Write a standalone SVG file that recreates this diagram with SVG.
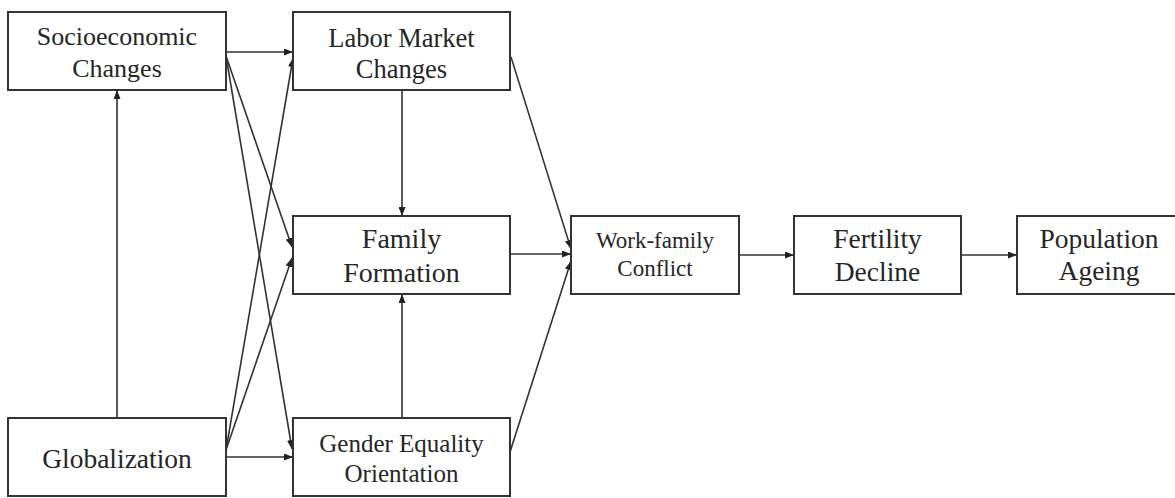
<svg xmlns="http://www.w3.org/2000/svg" width="1175" height="498" viewBox="0 0 1175 498">
  <style>
    .box { fill: #ffffff; stroke: #333333; stroke-width: 2; }
    .lbl { font-family: "Liberation Serif", "Times New Roman", serif; fill: #262626; text-anchor: middle; }
    .edge { fill: none; stroke: #333333; stroke-width: 1.6; marker-end: url(#arrow); }
  </style>
  <defs>
    <marker id="arrow" viewBox="0 0 9 7" refX="9" refY="3.5" markerWidth="9" markerHeight="7" markerUnits="userSpaceOnUse" orient="auto">
      <path d="M0,0 L9,3.5 L0,7 z" fill="#222222"/>
    </marker>
  </defs>
  <rect width="1175" height="498" fill="#ffffff"/>

  <!-- connectors -->
  <g id="connectors">
    <path class="edge" d="M226,52 L293,52"/>
    <path class="edge" d="M117,418 L117,90"/>
    <path class="edge" d="M226,56 L292,247"/>
    <path class="edge" d="M226,56 L292,449"/>
    <path class="edge" d="M226,450 L293,58"/>
    <path class="edge" d="M226,450 L292,258"/>
    <path class="edge" d="M226,457 L293,457"/>
    <path class="edge" d="M402,90 L402,216"/>
    <path class="edge" d="M402,418 L402,294"/>
    <path class="edge" d="M511,57 L571,249"/>
    <path class="edge" d="M510,254 L571,254"/>
    <path class="edge" d="M510,452 L571,261"/>
    <path class="edge" d="M739,255 L794,255"/>
    <path class="edge" d="M961,255 L1017,255"/>
  </g>

  <!-- nodes -->
  <g id="socioeconomic">
    <rect class="box" x="8" y="12" width="218" height="78"/>
    <text class="lbl" x="117" y="45" font-size="26">Socioeconomic</text>
    <text class="lbl" x="117" y="77" font-size="26">Changes</text>
  </g>
  <g id="labor-market">
    <rect class="box" x="293" y="12" width="217" height="78"/>
    <text class="lbl" x="401.5" y="47" font-size="26.5">Labor Market</text>
    <text class="lbl" x="401.5" y="78" font-size="26.5">Changes</text>
  </g>
  <g id="family-formation">
    <rect class="box" x="293" y="216" width="217" height="78"/>
    <text class="lbl" x="401.5" y="248" font-size="28">Family</text>
    <text class="lbl" x="401.5" y="282" font-size="28">Formation</text>
  </g>
  <g id="globalization">
    <rect class="box" x="8" y="418" width="218" height="78"/>
    <text class="lbl" x="117" y="468" font-size="27.5">Globalization</text>
  </g>
  <g id="gender-equality">
    <rect class="box" x="293" y="418" width="217" height="78"/>
    <text class="lbl" x="401.5" y="452" font-size="25">Gender Equality</text>
    <text class="lbl" x="401.5" y="482" font-size="25">Orientation</text>
  </g>
  <g id="work-family">
    <rect class="box" x="571" y="216" width="168" height="78"/>
    <text class="lbl" x="655" y="248" font-size="23">Work-family</text>
    <text class="lbl" x="655" y="276" font-size="23">Conflict</text>
  </g>
  <g id="fertility-decline">
    <rect class="box" x="794" y="216" width="167" height="78"/>
    <text class="lbl" x="877.5" y="248" font-size="27.5">Fertility</text>
    <text class="lbl" x="877.5" y="281" font-size="27.5">Decline</text>
  </g>
  <g id="population-ageing">
    <rect class="box" x="1017" y="216" width="167" height="78"/>
    <text class="lbl" x="1099" y="248" font-size="27.5">Population</text>
    <text class="lbl" x="1099" y="280" font-size="27.5">Ageing</text>
  </g>
</svg>
